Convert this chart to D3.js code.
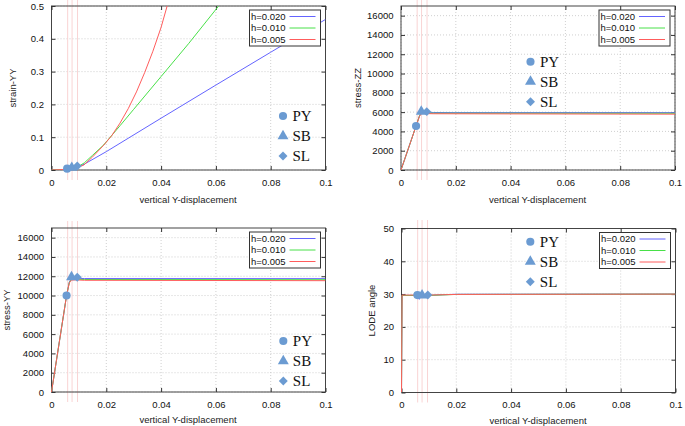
<!DOCTYPE html>
<html><head><meta charset="utf-8">
<script src="https://cdn.jsdelivr.net/npm/d3@7/dist/d3.min.js"></script>
<style>body{margin:0;background:#fff}svg{display:block}</style>
</head><body>
<svg id="c" width="685" height="426" font-family='"Liberation Sans",Arial,sans-serif'></svg>
<script>
// ---------------- data ----------------
const seriesNames = ["h=0.020", "h=0.010", "h=0.005"];
const markerNames = ["PY", "SB", "SL"];
const xTicks = [0, 0.02, 0.04, 0.06, 0.08, 0.1];
const xTickLabels = ["0", "0.02", "0.04", "0.06", "0.08", "0.1"];
const strainTicks = [0, 0.1, 0.2, 0.3, 0.4, 0.5];
const stressTicks = [0, 2000, 4000, 6000, 8000, 10000, 12000, 14000, 16000];
const lodeTicks = [0, 10, 20, 30, 40, 50];
const pinkLinesX = [0.0059, 0.0075, 0.0095];

// strain-YY
const strainX020 = [0, 0.0055, 0.0075, 0.0095, 0.012, 0.02, 0.04, 0.06, 0.08, 0.1];
const strainY020 = [0, 0.002, 0.005, 0.009, 0.018, 0.056, 0.158, 0.259, 0.359, 0.459];
const strainX010 = [0, 0.0055, 0.0075, 0.0095, 0.012, 0.015, 0.019, 0.025, 0.03, 0.04, 0.05, 0.061];
const strainY010 = [0, 0.002, 0.005, 0.009, 0.022, 0.045, 0.076, 0.135, 0.185, 0.285, 0.385, 0.5];
const strainX005 = [0, 0.0055, 0.0075, 0.0095, 0.0118, 0.015, 0.0191, 0.022, 0.025, 0.028, 0.031, 0.034, 0.037, 0.04, 0.0422];
const strainY005 = [0, 0.002, 0.005, 0.008, 0.015, 0.04, 0.076, 0.105, 0.143, 0.187, 0.238, 0.297, 0.362, 0.435, 0.5];
const strainMarkX = [0.0057, 0.0074, 0.0094];
const strainMarkY = [0.004, 0.007, 0.012];

// stress-ZZ
const szzX020 = [0, 0.0055, 0.0068, 0.0075, 0.009, 0.012, 0.02, 0.05, 0.1];
const szzY020 = [0, 4560, 5650, 5950, 5990, 5960, 5950, 5950, 5950];
const szzX010 = [0, 0.0055, 0.0066, 0.0072, 0.009, 0.012, 0.1];
const szzY010 = [0, 4560, 5500, 5870, 5910, 5890, 5880];
const szzX005 = [0, 0.0055, 0.0068, 0.0075, 0.009, 0.012, 0.1];
const szzY005 = [0, 4560, 5600, 5850, 5850, 5830, 5790];
const szzMarkX = [0.0055, 0.0074, 0.0094];
const szzMarkY = [4560, 6050, 6050];

// stress-YY
const syyX020 = [0, 0.0055, 0.0065, 0.0072, 0.009, 0.012, 0.1];
const syyY020 = [0, 10000, 11400, 11750, 11790, 11760, 11750];
const syyX010 = [0, 0.0055, 0.0065, 0.0072, 0.009, 0.012, 0.1];
const syyY010 = [0, 10000, 11350, 11660, 11690, 11660, 11640];
const syyX005 = [0, 0.0055, 0.0065, 0.0072, 0.009, 0.012, 0.1];
const syyY005 = [0, 10000, 11300, 11600, 11620, 11580, 11540];
const syyMarkX = [0.0055, 0.0073, 0.0094];
const syyMarkY = [10000, 11900, 11900];

// LODE angle
const lodeX020 = [0, 0.0002, 0.005, 0.006, 0.0065, 0.007, 0.008, 0.01, 0.015, 0.02, 0.1];
const lodeY020 = [0, 29.6, 29.6, 29.3, 28.4, 29.3, 29.5, 29.6, 29.8, 29.95, 30];
const lodeX010 = [0, 0.0002, 0.006, 0.008, 0.01, 0.02, 0.1];
const lodeY010 = [0, 29.6, 29.6, 29.5, 29.6, 29.9, 30];
const lodeX005 = [0, 0.0002, 0.006, 0.008, 0.01, 0.02, 0.1];
const lodeY005 = [0, 29.7, 29.7, 29.6, 29.7, 29.9, 30];
const lodeMarkX = [0.0058, 0.0075, 0.0096];
const lodeMarkY = [29.7, 29.6, 29.7];

// ---------------- layout ----------------
const colors = ["#6464ff", "#48e048", "#ff5c5c"];
const markColor = "#6b9bd2";
const panels = [
  {L:51.5, R:325.5, T:6, B:170, ymax:0.5, yTicks:strainTicks, yFmt:d=>d===0?"0":String(d), title:"strain-YY", tx:13,
   xs:[strainX020,strainX010,strainX005], ys:[strainY020,strainY010,strainY005], mx:strainMarkX, my:strainMarkY,
   legX:283, legY:116, pinkTop:0, xt:33.4},
  {L:401, R:675, T:6, B:170, ymax:17000, yTicks:stressTicks, yFmt:d=>String(d), title:"stress-ZZ", tx:358,
   xs:[szzX020,szzX010,szzX005], ys:[szzY020,szzY010,szzY005], mx:szzMarkX, my:szzMarkY,
   legX:530.5, legY:61.7, pinkTop:0, xt:33.4},
  {L:51.5, R:325.5, T:228, B:392, ymax:17000, yTicks:stressTicks, yFmt:d=>String(d), title:"stress-YY", tx:7,
   xs:[syyX020,syyX010,syyX005], ys:[syyY020,syyY010,syyY005], mx:syyMarkX, my:syyMarkY,
   legX:283.3, legY:341, pinkTop:221, xt:31.2},
  {L:401.5, R:675.5, T:228.5, B:392.5, ymax:50, yTicks:lodeTicks, yFmt:d=>String(d), title:"LODE angle", tx:372,
   xs:[lodeX020,lodeX010,lodeX005], ys:[lodeY020,lodeY010,lodeY005], mx:lodeMarkX, my:lodeMarkY,
   legX:530.3, legY:241.7, pinkTop:220, xt:31}
];

const svg = d3.select("#c");
svg.append("rect").attr("width",685).attr("height",426).attr("fill","#fff");

const symbols = [d3.symbol().type(d3.symbolCircle).size(52),
                 d3.symbol().type(d3.symbolTriangle).size(52),
                 d3.symbol().type(d3.symbolSquare).size(40)];
const symRot = [0, 0, 45];
const sans = '"Liberation Sans",Arial,sans-serif';
const serif = '"Liberation Serif","Times New Roman",serif';

panels.forEach((p, pi) => {
  const x = d3.scaleLinear().domain([0, 0.1]).range([p.L, p.R]);
  const y = d3.scaleLinear().domain([0, p.ymax]).range([p.B, p.T]);
  const g = svg.append("g");
  const cid = "clip" + pi;
  svg.append("clipPath").attr("id", cid).append("rect")
    .attr("x", p.L - 1).attr("y", p.T).attr("width", p.R - p.L + 1).attr("height", p.B - p.T);

  // grid
  g.append("g").selectAll("line").data(xTicks).join("line")
    .attr("x1", d=>x(d)).attr("x2", d=>x(d)).attr("y1", p.T).attr("y2", p.B)
    .attr("stroke", "#c4c4c4").attr("stroke-width", 0.8).attr("stroke-dasharray", "1,2");
  g.append("g").selectAll("line").data(p.yTicks).join("line")
    .attr("y1", d=>y(d)).attr("y2", d=>y(d)).attr("x1", p.L).attr("x2", p.R)
    .attr("stroke", "#c4c4c4").attr("stroke-width", 0.8).attr("stroke-dasharray", "1,2");

  // pink vertical lines
  g.append("g").selectAll("line").data(pinkLinesX).join("line")
    .attr("x1", d=>x(d)).attr("x2", d=>x(d)).attr("y1", p.pinkTop).attr("y2", p.B + 10)
    .attr("stroke", "#f8cfcf").attr("stroke-width", 0.9);

  // border
  g.append("rect").attr("x", p.L).attr("y", p.T).attr("width", p.R - p.L).attr("height", p.B - p.T)
    .attr("fill", "none").attr("stroke", "#444").attr("stroke-width", 1);

  // axes with inward ticks on all four sides
  const ax = d3.axisBottom(x).tickValues(xTicks).tickFormat((d,i)=>xTickLabels[i]).tickSize(-4).tickPadding(9);
  const axg = g.append("g").attr("transform", `translate(0,${p.B})`).call(ax);
  const axt = g.append("g").attr("transform", `translate(0,${p.T})`).call(d3.axisTop(x).tickValues(xTicks).tickFormat("").tickSize(-4));
  const ay = d3.axisLeft(y).tickValues(p.yTicks).tickFormat(p.yFmt).tickSize(-4).tickPadding(7.5);
  const ayg = g.append("g").attr("transform", `translate(${p.L},0)`).call(ay);
  const ayr = g.append("g").attr("transform", `translate(${p.R},0)`).call(d3.axisRight(y).tickValues(p.yTicks).tickFormat("").tickSize(-4));
  [axg, axt, ayg, ayr].forEach(a => {
    a.select(".domain").remove();
    a.selectAll("line").attr("stroke", "#333");
    a.selectAll("text").attr("font-size", 9.5).attr("fill", "#111").attr("font-family", sans);
  });

  // series lines (drawn in order: h=0.020, h=0.010, h=0.005 on top)
  const line = d3.line().x(d=>x(d[0])).y(d=>y(d[1]));
  const lg = g.append("g").attr("clip-path", `url(#${cid})`);
  [0,1,2].forEach(si => {
    const pts = p.xs[si].map((v,i)=>[v, p.ys[si][i]]);
    lg.append("path").attr("d", line(pts)).attr("fill","none")
      .attr("stroke", colors[si]).attr("stroke-width", 1);
  });

  // markers on curves
  p.mx.forEach((mxv, i) => {
    g.append("path").attr("d", symbols[i]())
      .attr("transform", `translate(${x(mxv)},${y(p.my[i])}) rotate(${symRot[i]})`)
      .attr("fill", markColor);
  });

  // axis titles
  g.append("text").attr("x", (p.L + p.R) / 2 - 0.5).attr("y", p.B + p.xt)
    .attr("text-anchor", "middle").attr("font-size", 9.5).attr("fill", "#222").text("vertical Y-displacement");
  g.append("text").attr("transform", `translate(${p.tx},${(p.T + p.B) / 2}) rotate(-90)`)
    .attr("text-anchor", "middle").attr("dy", "0.35em").attr("font-size", 9.5).attr("fill", "#222").text(p.title);

  // h legend box
  const bx = p.R - 76, by = p.T + 4, bw = 71, bh = 36;
  const lgd = g.append("g");
  lgd.append("rect").attr("x", bx).attr("y", by).attr("width", bw).attr("height", bh)
    .attr("fill", "#fff").attr("stroke", "#333").attr("stroke-width", 1);
  seriesNames.forEach((n, i) => {
    const yy = by + 6.5 + i * 11.5;
    lgd.append("text").attr("x", bx + 1.5).attr("y", yy).attr("dy", "0.35em")
      .attr("font-size", 9.5).attr("fill", "#111").text(n);
    lgd.append("line").attr("x1", bx + 40).attr("x2", bx + 66).attr("y1", yy).attr("y2", yy)
      .attr("stroke", colors[i]).attr("stroke-width", 1);
  });

  // marker legend
  markerNames.forEach((n, i) => {
    const yy = p.legY + i * 20;
    g.append("path").attr("d", symbols[i]())
      .attr("transform", `translate(${p.legX},${yy}) rotate(${symRot[i]})`).attr("fill", markColor);
    g.append("text").attr("x", p.legX + 9.5).attr("y", yy + 5.3)
      .attr("font-family", serif).attr("font-size", 15)
      .attr("fill", "#111").text(n);
  });
});
</script>
</body></html>
